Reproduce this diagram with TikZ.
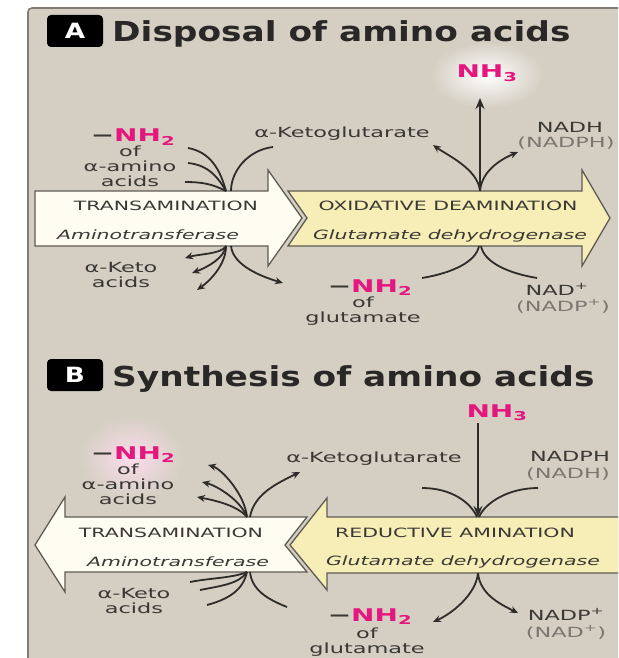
\documentclass[tikz,border=0pt]{standalone}
\usepackage{fontspec}
\setmainfont{DejaVu Sans}
\newfontfamily\widefont[FakeStretch=1.6]{DejaVu Sans}
\newfontfamily\headfont[FakeStretch=1.25]{DejaVu Sans}
\usetikzlibrary{arrows.meta, positioning}

\definecolor{panelbg}{HTML}{D5CFC3}
\definecolor{panelline}{HTML}{807C75}
\definecolor{ivory}{HTML}{FFFDF2}
\definecolor{paleyellow}{HTML}{F6EEB6}
\definecolor{nhpink}{HTML}{E5177F}
\definecolor{inkgray}{HTML}{3A3835}
\definecolor{headink}{HTML}{2A2826}
\definecolor{softgray}{HTML}{7A7670}
\definecolor{edgegray}{HTML}{5E5B55}
\definecolor{lineink}{HTML}{2E2C29}

\newcommand{\aminogrp}[1]{{\color{inkgray}−}NH\textsubscript{#1}}

\tikzset{
  letterbox/.style={fill=black, rounded corners=4pt, minimum width=56pt, minimum height=32pt, inner sep=0pt, text=white, font=\headfont\bfseries\fontsize{21}{21}\selectfont},
  heading/.style={text=headink, inner sep=0pt, anchor=base west, font=\headfont\bfseries\fontsize{27.5}{27.5}\selectfont},
  transshape/.style={draw=edgegray, line width=1.3pt, fill=ivory},
  gdhshape/.style={draw=edgegray, line width=1.3pt, fill=paleyellow},
  caps/.style={text=inkgray, inner sep=0pt, anchor=base, font=\widefont\fontsize{12.8}{12.8}\selectfont},
  enzyme/.style={text=inkgray, inner sep=0pt, anchor=base, font=\widefont\itshape\fontsize{12.8}{12.8}\selectfont},
  lbl/.style={text=inkgray, inner sep=0pt, anchor=base, align=center, font=\widefont\fontsize{14}{15}\selectfont},
  cofactor/.style={lbl, text=softgray},
  amino/.style={text=nhpink, inner sep=0pt, anchor=base, font=\widefont\bfseries\fontsize{17.5}{17.5}\selectfont},
  conn/.style={draw=lineink, line width=1.8pt},
  connarrow/.style={conn, -{Stealth[length=8pt, width=7pt]}}
}

\begin{document}
\begin{tikzpicture}[x=1pt, y=-1pt]
  \useasboundingbox (0,0) rectangle (618,658);
  \clip (0,0) rectangle (618,658);

  % --- Fondo del panel ---
  \fill[panelbg] (28,8) rectangle (630,670);
  \draw[panelline, line width=1.6pt, rounded corners=4pt] (28,670) -- (28,8) -- (630,8);

  % --- Halos blancos ---
  \shade[inner color=white, outer color=panelbg] (487,75) ellipse [x radius=56, y radius=33];
  \shade[inner color=white!85!nhpink, outer color=panelbg] (131,458) ellipse [x radius=52, y radius=42];

  % --- Titulos ---
  \node (boxA) [letterbox] at (75,31) {A};
  \node (headA) [heading] at (112,42) {Disposal of amino acids};
  \node (boxB) [letterbox] at (75,375) {B};
  \node (headB) [heading] at (112,386) {Synthesis of amino acids};

  % --- A: flechas grandes ---
  \draw[transshape] (35,191) -- (268,191) -- (268,170) -- (302,218) -- (268,266) -- (268,246) -- (35,246) -- cycle;
  \draw[gdhshape] (288,191) -- (582,191) -- (582,170) -- (610,218) -- (582,266) -- (582,246) -- (288,246) -- (307,218) -- cycle;
  \node (transA) [caps] at (166,210) {TRANSAMINATION};
  \node (atA) [enzyme] at (148,239) {Aminotransferase};
  \node (oxA) [caps] at (448,210) {OXIDATIVE DEAMINATION};
  \node (gdhA) [enzyme] at (450,239) {Glutamate dehydrogenase};

  % --- A: rotulos ---
  \node (nhA) [amino] at (487,78) {NH\textsubscript{3}};
  \node (kgA) [lbl] at (342,137) {α-Ketoglutarate};
  \node (nadhA) [lbl] at (570,132) {NADH};
  \node (nadphA) [cofactor] at (566,147) {(NADPH)};
  \node (aaNH) [amino] at (133,142) {\aminogrp{2}};
  \node (aaA) [lbl] at (130,186) {of\\α-amino\\acids};
  \node (akA) [lbl] at (121,287) {α-Keto\\acids};
  \node (gluNH) [amino] at (370,292) {\aminogrp{2}};
  \node (gluA) [lbl] at (363,322) {of\\glutamate};
  \node (nadA) [lbl] at (557,295) {NAD\textsuperscript{+}};
  \node (nadpA) [cofactor] at (563,311) {(NADP\textsuperscript{+})};

  % --- A: puntos de union ---
  \coordinate (jA1) at (226,191);
  \coordinate (jA2) at (226,246);
  \coordinate (jB1) at (480,191);
  \coordinate (jB2) at (480,246);

  % --- A: transaminacion ---
  \draw[conn] (188,148) .. controls +(22,4) and +(-6,-22) .. (jA1);
  \draw[conn] (188,163) .. controls +(20,2) and +(-8,-14) .. (jA1);
  \draw[conn] (185,182) .. controls +(20,0) and +(-12,-6) .. (jA1);
  \draw[conn] (273,147) .. controls +(-25,3) and +(0,-20) .. ([xshift=5pt]jA1);
  \draw[connarrow] (jA2) .. controls +(-4,8) and +(14,-4) .. (185,258);
  \draw[connarrow] (jA2) .. controls +(-2,12) and +(16,-6) .. (192,273);
  \draw[connarrow] (jA2) .. controls +(0,18) and +(14,-10) .. (197,290);
  \draw[connarrow] ([xshift=5pt]jA2) .. controls +(2,20) and +(-20,-6) .. (283,283);

  % --- A: desaminacion oxidativa ---
  \draw[conn, -{Stealth[length=11pt, width=9pt]}, line width=2.2pt] (jB1) -- (480,98);
  \draw[connarrow] (jB1) .. controls +(-2,-22) and +(14,10) .. (433,145);
  \draw[connarrow] (jB1) .. controls +(2,-22) and +(-14,6) .. (518,152);
  \draw[conn] (422,278) .. controls +(30,-5) and +(-3,16) .. ([xshift=-1pt]jB2);
  \draw[conn] (537,278) .. controls +(-30,-5) and +(3,16) .. ([xshift=1pt]jB2);

  % --- B: flechas grandes ---
  \draw[gdhshape] (630,517) -- (327,517) -- (327,498) -- (290,545) -- (327,590) -- (327,573) -- (630,573) -- cycle;
  \draw[transshape] (307,517) -- (65,517) -- (65,497) -- (35,545) -- (65,592) -- (65,572) -- (307,572) -- (285,545) -- cycle;
  \node (transB) [caps] at (171,537) {TRANSAMINATION};
  \node (atB) [enzyme] at (178,566) {Aminotransferase};
  \node (redB) [caps] at (455,537) {REDUCTIVE AMINATION};
  \node (gdhB) [enzyme] at (463,565) {Glutamate dehydrogenase};

  % --- B: rotulos ---
  \node (nhB) [amino] at (497,417) {NH\textsubscript{3}};
  \node (kgB) [lbl] at (374,462) {α-Ketoglutarate};
  \node (nadphB) [lbl] at (570,461) {NADPH};
  \node (nadhB) [cofactor] at (568,478) {(NADH)};
  \node (aaNHB) [amino] at (133,459) {\aminogrp{2}};
  \node (aaB) [lbl] at (128,504) {of\\α-amino\\acids};
  \node (akB) [lbl] at (134,613) {α-Keto\\acids};
  \node (gluNHB) [amino] at (370,621) {\aminogrp{2}};
  \node (gluB) [lbl] at (367,653) {of\\glutamate};
  \node (nadpB) [lbl] at (566,620) {NADP\textsuperscript{+}};
  \node (nadB) [cofactor] at (566,637) {(NAD\textsuperscript{+})};

  % --- B: puntos de union ---
  \coordinate (jC1) at (247,517);
  \coordinate (jC2) at (247,572);
  \coordinate (jD1) at (478,517);
  \coordinate (jD2) at (478,573);

  % --- B: transaminacion ---
  \draw[connarrow] (jC1) .. controls +(-2,-22) and +(14,4) .. (208,465);
  \draw[connarrow] (jC1) .. controls +(-6,-16) and +(16,4) .. (202,482);
  \draw[connarrow] (jC1) .. controls +(-10,-12) and +(16,3) .. (197,497);
  \draw[connarrow] ([xshift=3pt]jC1) .. controls +(4,-24) and +(-20,10) .. (300,472);
  \draw[conn] (190,582) .. controls +(20,-4) and +(-14,6) .. (jC2);
  \draw[conn] (200,590) .. controls +(20,-4) and +(-8,12) .. (jC2);
  \draw[conn] (207,605) .. controls +(22,-6) and +(-4,18) .. (jC2);
  \draw[conn] (287,607) .. controls +(-20,-8) and +(2,18) .. ([xshift=3pt]jC2);

  % --- B: aminacion reductora ---
  \draw[conn, -{Stealth[length=11pt, width=9pt]}, line width=2.2pt] (478,423) -- (jD1);
  \draw[conn] (422,488) .. controls +(30,0) and +(-6,-14) .. ([xshift=-1pt]jD1);
  \draw[conn] (538,488) .. controls +(-30,0) and +(6,-14) .. ([xshift=1pt]jD1);
  \draw[connarrow] (jD2) .. controls +(-2,22) and +(18,-8) .. (433,622);
  \draw[connarrow] (jD2) .. controls +(2,22) and +(-16,-8) .. (518,613);
\end{tikzpicture}
\end{document}
